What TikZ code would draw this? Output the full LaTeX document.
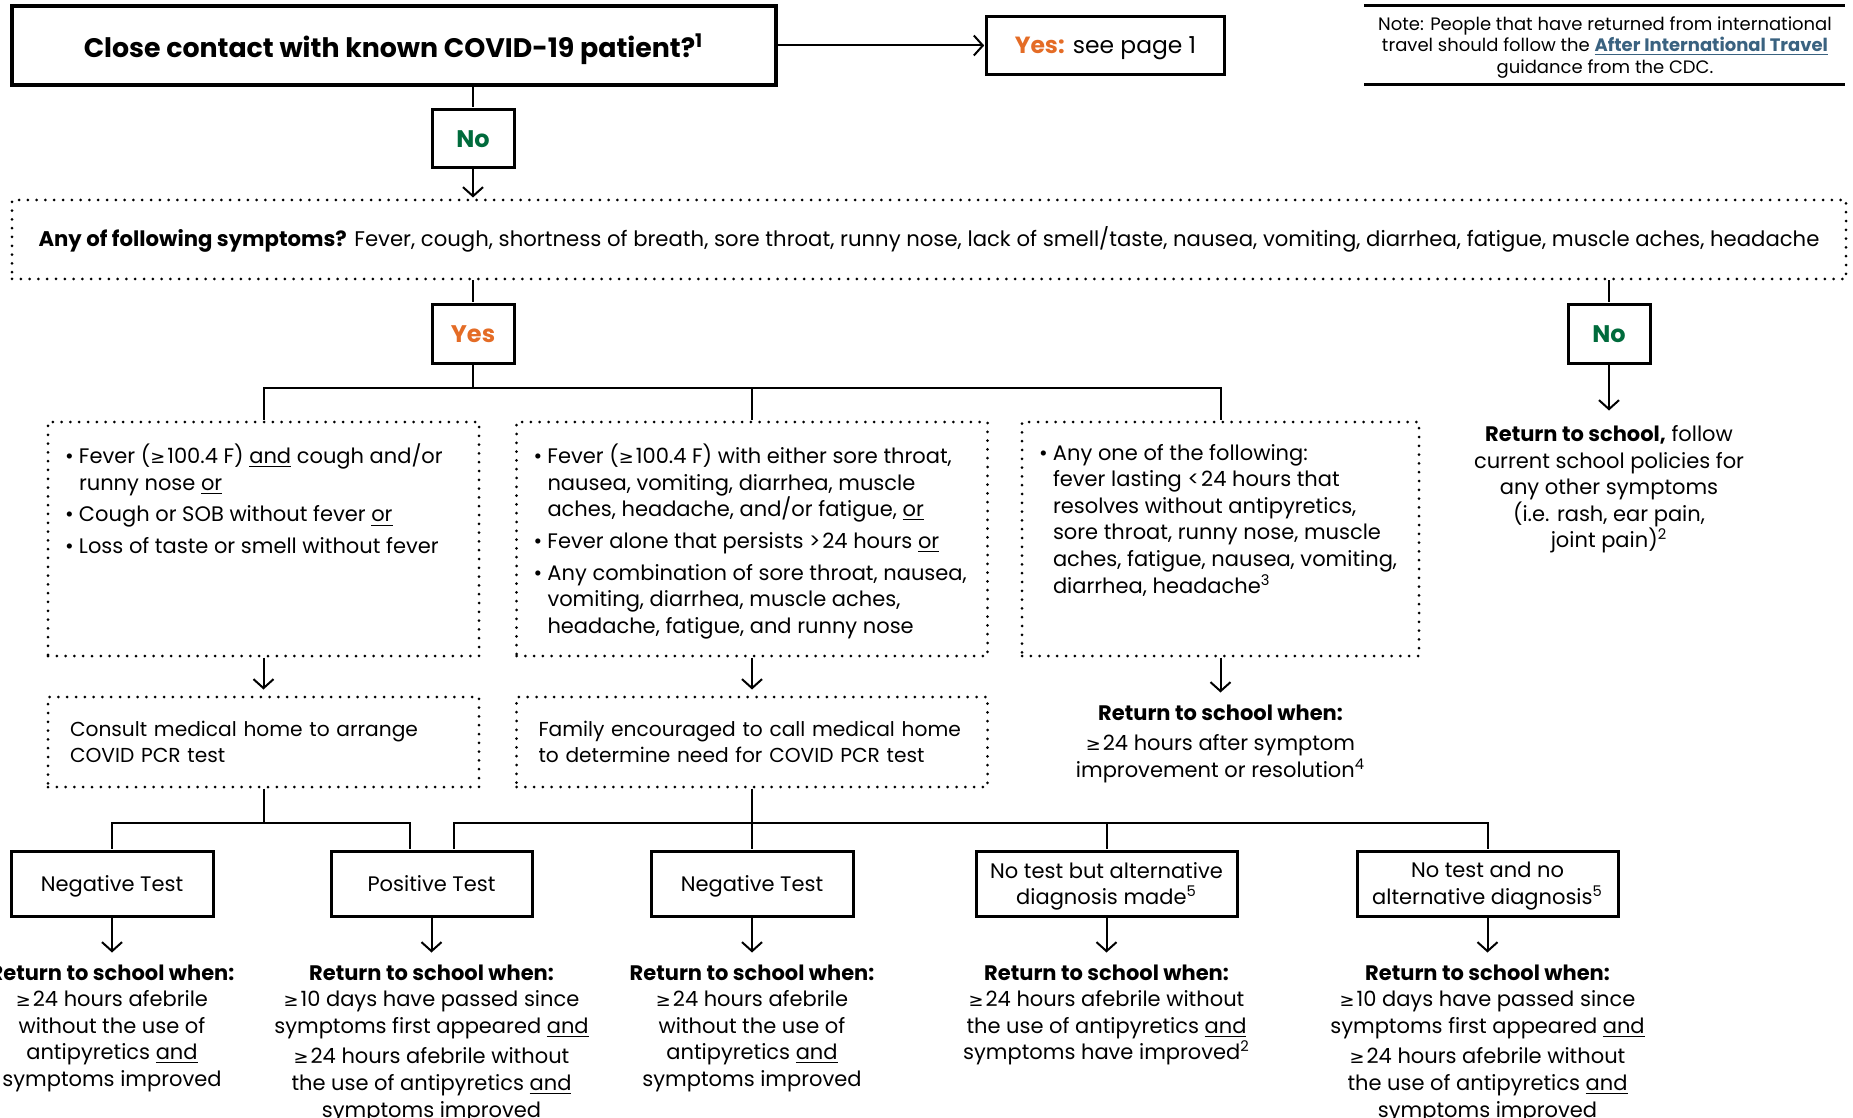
\documentclass[tikz,border=0pt]{standalone}
\usepackage{fontspec}
\setmainfont{Poppins}
\newfontfamily\symfont{DejaVu Sans}
\usepackage{graphicx}
\usepackage{tikz}
\usetikzlibrary{arrows.meta}
\usetikzlibrary{positioning}
\definecolor{yorange}{RGB}{228,108,38}
\definecolor{ngreen}{RGB}{0,107,60}
\definecolor{lblue}{RGB}{58,98,128}
\newcommand{\bodyfont}{\fontsize{10.5pt}{13.3pt}\selectfont}
\newcommand{\atl}{\scalebox{0.85}{\symfont ≥}\kern1pt}
\newcommand{\bitem}[1]{\par\hangindent=7pt\hangafter=1\noindent\makebox[7pt][l]{\textbullet}#1\par\vspace{2.5pt}}

\begin{document}
\begin{tikzpicture}[x=0.5pt,y=-0.5pt,>={Straight Barb[length=4.5pt,width=10pt]},shorten >=0.5pt,line width=1pt,node distance=20pt]
      \tikzstyle{every node}=[font=\bodyfont,inner sep=0pt]
      \tikzstyle{heavybox}=[draw,line width=2pt,minimum width=382pt,minimum height=39.5pt,text depth=0pt,font=\fontsize{13.4pt}{16pt}\selectfont\bfseries]
      \tikzstyle{answer}=[draw,line width=1.5pt,minimum width=41pt,minimum height=29pt,font=\fontsize{12pt}{14pt}\selectfont\bfseries]
      \tikzstyle{dotbox}=[draw,line width=1.5pt,dash pattern=on 0pt off 4.4pt,line cap=round]
      \tikzstyle{testbox}=[draw,line width=1.5pt,minimum height=32.5pt,text depth=0pt,align=center]
      \tikzstyle{result}=[align=center]
      \tikzstyle{noteline}=[line width=1.5pt]

      \useasboundingbox (0,0) rectangle (1853,1118);

      % question and first answers
      \node[heavybox] (contact) at (393.5,45.5) {Close contact with known COVID-19 patient?\textsuperscript{1}};
      \node[draw,line width=1.3pt,minimum width=119pt,minimum height=29pt,text depth=0pt,font=\fontsize{11.7pt}{14pt}\selectfont] (seepage) at (1105.5,45.5) {{\color{yorange}\textbf{Yes:}} see page 1};
      \node[align=center,minimum width=241pt,minimum height=39.5pt,font=\fontsize{9pt}{10.9pt}\selectfont] (note) at (1605,47.5)
        {Note: People that have returned from international\\ travel should follow the {\color{lblue}\underline{\textbf{After International Travel}}}\\ guidance from the CDC.};
      \node[answer,text=ngreen] (no1) at (473,139) {No};

      % symptoms
      \node[dotbox,minimum width=917pt,minimum height=39.5pt,font=\fontsize{10.6pt}{12pt}\selectfont] (symptoms) at (929,239.5)
        {\textbf{Any of following symptoms?} Fever, cough, shortness of breath, sore throat, runny nose, lack of smell/taste, nausea, vomiting, diarrhea, fatigue, muscle aches, headache};
      \node[answer,text=yorange] (yes) at (473,334) {Yes};
      \node[answer,text=ngreen] (no2) at (1609,334) {No};
      \node[result] (ret0) [below=30pt of no2] {\textbf{Return to school,} follow\\ current school policies for\\ any other symptoms\\ (i.e. rash, ear pain,\\ joint pain)\textsuperscript{2}};

      \node[dotbox,inner xsep=8.5pt,inner ysep=11pt,minimum width=215.5pt,minimum height=117pt] (sympA) at (263.5,539)
        {\parbox[t][95pt][t]{198.5pt}{\raggedright\bodyfont
          \bitem{Fever (\atl100.4 F) \underline{and} cough and/or\newline runny nose \underline{or}}
          \bitem{Cough or SOB without fever \underline{or}}
          \bitem{Loss of taste or smell without fever}}};
      \node[dotbox,inner xsep=8.5pt,inner ysep=11pt,minimum width=235.5pt,minimum height=117pt] (sympB) at (752,539)
        {\parbox[t][95pt][t]{218.5pt}{\raggedright\bodyfont
          \bitem{Fever (\atl100.4 F) with either sore throat,\newline nausea, vomiting, diarrhea, muscle\newline aches, headache, and/or fatigue, \underline{or}}
          \bitem{Fever alone that persists >\kern1pt24 hours \underline{or}}
          \bitem{Any combination of sore throat, nausea,\newline vomiting, diarrhea, muscle aches,\newline headache, fatigue, and runny nose}}};
      \node[dotbox,inner xsep=8.5pt,inner ysep=11pt,minimum width=198.5pt,minimum height=117pt] (sympC) at (1220.5,539)
        {\parbox[t][95pt][t]{181.5pt}{\raggedright\bodyfont
          \bitem{Any one of the following:\newline fever lasting <\kern1pt24 hours that\newline resolves without antipyretics,\newline sore throat, runny nose, muscle\newline aches, fatigue, nausea, vomiting,\newline diarrhea, headache\textsuperscript{3}}}};

      % next steps
      \node[dotbox,inner xsep=11pt,text width=193.5pt,align=left,minimum height=45pt,font=\fontsize{10.1pt}{13.3pt}\selectfont] (boxD) at (263.5,742)
        {Consult medical home to arrange\\ COVID PCR test};
      \node[dotbox,inner xsep=11pt,text width=213.5pt,align=left,minimum height=45pt,font=\fontsize{10.1pt}{13.3pt}\selectfont] (boxE) at (752,742)
        {Family encouraged to call medical home\\ to determine need for COVID PCR test};
      \node[result] (retC) [below=23pt of sympC] {\textbf{Return to school when:}\\[2pt] \atl24 hours after symptom\\ improvement or resolution\textsuperscript{4}};

      % test outcomes
      \node[testbox,minimum width=101pt] (nt1) at (112,883.5) {Negative Test};
      \node[testbox,minimum width=100.5pt] (pt) at (431.5,883.5) {Positive Test};
      \node[testbox,minimum width=101pt] (nt2) at (752,883.5) {Negative Test};
      \node[testbox,minimum width=130.5pt] (nta) at (1106.5,883.5) {No test but alternative\\ diagnosis made\textsuperscript{5}};
      \node[testbox,minimum width=130.5pt] (ntn) at (1487.5,883.5) {No test and no\\ alternative diagnosis\textsuperscript{5}};

      \node[result] (rnt1) [below=23pt of nt1] {\textbf{Return to school when:}\\ \atl24 hours afebrile\\ without the use of\\ antipyretics \underline{and}\\ symptoms improved};
      \node[result] (rpt) [below=23pt of pt] {\textbf{Return to school when:}\\ \atl10 days have passed since\\ symptoms first appeared \underline{and}\\[2pt] \atl24 hours afebrile without\\ the use of antipyretics \underline{and}\\ symptoms improved};
      \node[result] (rnt2) [below=23pt of nt2] {\textbf{Return to school when:}\\ \atl24 hours afebrile\\ without the use of\\ antipyretics \underline{and}\\ symptoms improved};
      \node[result] (rnta) [below=23pt of nta] {\textbf{Return to school when:}\\ \atl24 hours afebrile without\\ the use of antipyretics \underline{and}\\ symptoms have improved\textsuperscript{2}};
      \node[result] (rntn) [below=23pt of ntn] {\textbf{Return to school when:}\\ \atl10 days have passed since\\ symptoms first appeared \underline{and}\\[2pt] \atl24 hours afebrile without\\ the use of antipyretics \underline{and}\\ symptoms improved};

      % plain lines
      \draw[noteline] (1364,6) -- (1846,6);
      \draw[noteline] (1364,85) -- (1846,85);
      \draw (no1 |- contact.south) -- (no1);
      \draw (yes |- symptoms.south) -- (yes);
      \draw (no2 |- symptoms.south) -- (no2);
      \coordinate (fork1) at (473,388);
      \draw (yes) -- (fork1);
      \draw (fork1) -| (sympA.north);
      \draw (fork1) -| (sympB.north);
      \draw (fork1) -| (sympC.north);
      \draw (boxD.south) -- ++(0,34) coordinate (fork2);
      \draw (fork2) -| (nt1.north);
      \draw (fork2) -| ([xshift=-11pt]pt.north);
      \draw (boxE.south) -- ++(0,34) coordinate (fork3);
      \draw (fork3) -| ([xshift=11pt]pt.north);
      \draw (fork3) -- (nt2.north);
      \draw (fork3) -| (nta.north);
      \draw (fork3) -| (ntn.north);

      % arrows
      \path[->]
	(contact) edge				(seepage)
	(no1) edge				(no1 |- symptoms.north)
	(no2) edge	[shorten >=7pt]		(ret0)
	(sympA) edge	[shorten >=3pt]		(boxD)
	(sympB) edge	[shorten >=3pt]		(boxE)
	(sympC) edge	[shorten >=5.5pt]	(retC)
	(nt1) edge	[shorten >=5.5pt]	(rnt1)
	(pt) edge	[shorten >=5.5pt]	(rpt)
	(nt2) edge	[shorten >=5.5pt]	(rnt2)
	(nta) edge	[shorten >=5.5pt]	(rnta)
	(ntn) edge	[shorten >=5.5pt]	(rntn);

  \end{tikzpicture}
\end{document}
